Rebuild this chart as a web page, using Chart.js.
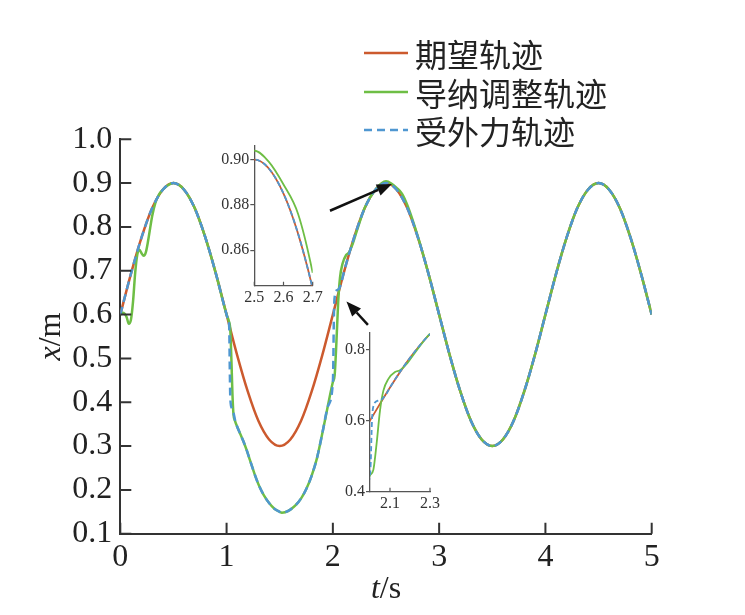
<!DOCTYPE html>
<html>
<head>
<meta charset="utf-8">
<script src="https://cdn.jsdelivr.net/npm/chart.js@4.4.1/dist/chart.umd.min.js"></script>
<style>
body { margin: 0; background: #fff; }
#wrap { position: relative; width: 745px; height: 615px; overflow: hidden; }
#wrap canvas { position: absolute; }
#legend { position: absolute; left: 364px; top: 34px; font-family: 'Noto Sans CJK SC'; font-size: 32px; color: #222; }
#legend div { height: 38.5px; display: flex; align-items: center; white-space: nowrap; }
#legend svg { margin-right: 7px; flex: none; }
</style>
</head>
<body>
<div id="wrap">
  <canvas id="main" width="745" height="615" style="left:0;top:0"></canvas>
  <canvas id="inset1" width="130" height="180" style="left:195px;top:135px"></canvas>
  <canvas id="inset2" width="125" height="195" style="left:320px;top:322px"></canvas>
  <div id="legend"></div>
</div>
<script>
// series names / colours
var names = ['期望轨迹', '导纳调整轨迹', '受外力轨迹']
var colors = ['#CC5A2E', '#6EBE45', '#4F97D1']

// desired trajectory
var tRef = [0, 0.1, 0.2, 0.3, 0.4, 0.5, 0.6, 0.7, 0.8, 0.9, 1.0, 1.1, 1.2, 1.3, 1.4, 1.5, 1.6, 1.7, 1.8, 1.9,
  2.0, 2.1, 2.2, 2.3, 2.4, 2.5, 2.6, 2.7, 2.8, 2.9, 3.0, 3.1, 3.2, 3.3, 3.4, 3.5, 3.6, 3.7, 3.8, 3.9,
  4.0, 4.1, 4.2, 4.3, 4.4, 4.5, 4.6, 4.7, 4.8, 4.9, 5.0]
var xRef = [0.600, 0.693, 0.776, 0.843, 0.885, 0.900, 0.885, 0.843, 0.776, 0.693, 0.600, 0.507, 0.424, 0.357, 0.315, 0.300, 0.315, 0.357, 0.424, 0.507,
  0.600, 0.693, 0.776, 0.843, 0.885, 0.900, 0.885, 0.843, 0.776, 0.693, 0.600, 0.507, 0.424, 0.357, 0.315, 0.300, 0.315, 0.357, 0.424, 0.507,
  0.600, 0.693, 0.776, 0.843, 0.885, 0.900, 0.885, 0.843, 0.776, 0.693, 0.600]

// admittance-adjusted trajectory
var tAdm = [0, 0.02, 0.04, 0.06, 0.08, 0.10, 0.12, 0.14, 0.16, 0.18, 0.20, 0.22, 0.24, 0.26, 0.28, 0.30, 0.33, 0.36, 0.40, 0.5, 0.6, 0.7, 0.8, 0.9, 1.0,
  1.02, 1.035, 1.045, 1.055, 1.065, 1.08, 1.10, 1.13, 1.16, 1.19, 1.22, 1.25, 1.28, 1.31, 1.35, 1.40, 1.45, 1.50, 1.52, 1.55,
  1.60, 1.65, 1.70, 1.75, 1.80, 1.85, 1.90, 1.95, 2.00,
  2.017, 2.033, 2.05, 2.067, 2.092, 2.125, 2.15, 2.183, 2.233, 2.3,
  2.4, 2.5, 2.55, 2.6, 2.65, 2.7, 2.8, 2.9,
  3.0, 3.1, 3.2, 3.3, 3.4, 3.5, 3.6, 3.7, 3.8, 3.9, 4.0, 4.1, 4.2, 4.3, 4.4, 4.5, 4.6, 4.7, 4.8, 4.9, 5.0]
var xAdm = [0.600, 0.604, 0.602, 0.594, 0.579, 0.588, 0.630, 0.695, 0.737, 0.748, 0.740, 0.734, 0.742, 0.766, 0.796, 0.825, 0.855, 0.872, 0.885, 0.900, 0.885, 0.843, 0.776, 0.693, 0.600,
  0.586, 0.565, 0.500, 0.420, 0.372, 0.357, 0.344, 0.327, 0.310, 0.290, 0.268, 0.246, 0.225, 0.207, 0.188, 0.170, 0.157, 0.150, 0.148, 0.149,
  0.155, 0.165, 0.180, 0.202, 0.232, 0.272, 0.328, 0.388, 0.446,
  0.462, 0.535, 0.628, 0.684, 0.717, 0.736, 0.741, 0.759, 0.797, 0.844,
  0.885, 0.904, 0.899, 0.889, 0.876, 0.850, 0.778, 0.693,
  0.600, 0.507, 0.424, 0.357, 0.315, 0.300, 0.315, 0.357, 0.424, 0.507, 0.600, 0.693, 0.776, 0.843, 0.885, 0.900, 0.885, 0.843, 0.776, 0.693, 0.600]

// trajectory under external force
var tExt = [0, 0.1, 0.2, 0.3, 0.4, 0.5, 0.6, 0.7, 0.8, 0.9, 1.0,
  1.015, 1.025, 1.03, 1.035, 1.05, 1.065, 1.08, 1.10,
  1.13, 1.16, 1.19, 1.22, 1.25, 1.28, 1.31, 1.35, 1.40, 1.45, 1.50, 1.52, 1.55, 1.60, 1.65, 1.70, 1.75, 1.80, 1.85, 1.90, 1.95, 2.00,
  2.003, 2.01, 2.02, 2.04, 2.06, 2.08, 2.10, 2.2, 2.3,
  2.4, 2.5, 2.6, 2.7, 2.8, 2.9, 3.0, 3.1, 3.2, 3.3, 3.4, 3.5, 3.6, 3.7, 3.8, 3.9, 4.0, 4.1, 4.2, 4.3, 4.4, 4.5, 4.6, 4.7, 4.8, 4.9, 5.0]
var xExt = [0.600, 0.693, 0.776, 0.843, 0.885, 0.900, 0.885, 0.843, 0.776, 0.693, 0.600,
  0.588, 0.570, 0.480, 0.410, 0.386, 0.376, 0.359, 0.344,
  0.327, 0.310, 0.290, 0.268, 0.246, 0.225, 0.207, 0.188, 0.170, 0.157, 0.150, 0.148, 0.149, 0.155, 0.165, 0.180, 0.202, 0.232, 0.272, 0.328, 0.388, 0.446,
  0.470, 0.600, 0.645, 0.656, 0.660, 0.673, 0.693, 0.776, 0.843,
  0.885, 0.900, 0.885, 0.843, 0.776, 0.693, 0.600, 0.507, 0.424, 0.357, 0.315, 0.300, 0.315, 0.357, 0.424, 0.507, 0.600, 0.693, 0.776, 0.843, 0.885, 0.900, 0.885, 0.843, 0.776, 0.693, 0.600]

// tick labels
var xTicks = [0, 1, 2, 3, 4, 5]
var yTicks = [0.1, 0.2, 0.3, 0.4, 0.5, 0.6, 0.7, 0.8, 0.9, 1.0]
var in1XTicks = [2.5, 2.6, 2.7]
var in1YTicks = [0.86, 0.88, 0.90]
var in2XTicks = [2.1, 2.3]
var in2YTicks = [0.4, 0.6, 0.8]

// arrows in data units of the main plot: [t0, x0, t1, x1]
var arrowList = [[1.973, 0.837, 2.556, 0.898], [2.330, 0.5765, 2.128, 0.630]]

var serif = "'Liberation Serif', 'Times New Roman', serif"
var ink = '#222'

function pts(ts, xs) {
  return ts.map(function (t, i) { return { x: t, y: xs[i] } })
}

// blue first so it is painted on top, red last (bottom)
function makeSets(w, dash) {
  return [
    { label: names[2], data: pts(tExt, xExt), borderColor: colors[2], borderWidth: w, borderDash: dash },
    { label: names[1], data: pts(tAdm, xAdm), borderColor: colors[1], borderWidth: w },
    { label: names[0], data: pts(tRef, xRef), borderColor: colors[0], borderWidth: w }
  ]
}

// tick marks pointing into the plot
var inTicks = {
  id: 'inTicks',
  afterDraw: function (chart, args, o) {
    var ctx = chart.ctx, a = chart.chartArea
    ctx.save()
    ctx.strokeStyle = o.color
    ctx.lineWidth = o.width
    ctx.beginPath()
    if (o.x) chart.scales.x.ticks.forEach(function (t) {
      var px = chart.scales.x.getPixelForValue(t.value)
      ctx.moveTo(px, a.bottom); ctx.lineTo(px, a.bottom - o.len)
    })
    if (o.y) chart.scales.y.ticks.forEach(function (t) {
      var py = chart.scales.y.getPixelForValue(t.value)
      ctx.moveTo(a.left, py); ctx.lineTo(a.left + o.len, py)
    })
    ctx.stroke()
    ctx.restore()
  }
}

function mixedText(ctx, parts, x, y) {
  var w = 0
  parts.forEach(function (p) { ctx.font = p[1]; w += ctx.measureText(p[0]).width })
  var cx = x - w / 2
  parts.forEach(function (p) { ctx.font = p[1]; ctx.fillText(p[0], cx, y); cx += ctx.measureText(p[0]).width })
}

var axisTitles = {
  id: 'axisTitles',
  afterDraw: function (chart) {
    var ctx = chart.ctx, a = chart.chartArea
    ctx.save()
    ctx.fillStyle = ink
    ctx.textAlign = 'left'
    ctx.textBaseline = 'alphabetic'
    mixedText(ctx, [['t', 'italic 32px ' + serif], ['/s', '32px ' + serif]], (a.left + a.right) / 2, 598)
    ctx.translate(60, (a.top + a.bottom) / 2)
    ctx.rotate(-Math.PI / 2)
    mixedText(ctx, [['x', 'italic 32px ' + serif], ['/m', '32px ' + serif]], 0, 0)
    ctx.restore()
  }
}

var arrows = {
  id: 'arrows',
  afterDraw: function (chart) {
    var ctx = chart.ctx, sx = chart.scales.x, sy = chart.scales.y
    ctx.save()
    ctx.strokeStyle = '#111'
    ctx.fillStyle = '#111'
    ctx.lineWidth = 2.5
    arrowList.forEach(function (a) {
      var x0 = sx.getPixelForValue(a[0]), y0 = sy.getPixelForValue(a[1])
      var x1 = sx.getPixelForValue(a[2]), y1 = sy.getPixelForValue(a[3])
      var ang = Math.atan2(y1 - y0, x1 - x0), c = Math.cos(ang), s = Math.sin(ang)
      var hl = 15, hw = 6
      ctx.beginPath()
      ctx.moveTo(x0, y0)
      ctx.lineTo(x1 - hl * c, y1 - hl * s)
      ctx.stroke()
      ctx.beginPath()
      ctx.moveTo(x1, y1)
      ctx.lineTo(x1 - hl * c + hw * s, y1 - hl * s - hw * c)
      ctx.lineTo(x1 - hl * c - hw * s, y1 - hl * s + hw * c)
      ctx.closePath()
      ctx.fill()
    })
    ctx.restore()
  }
}

new Chart(document.getElementById('main'), {
  type: 'line',
  data: { datasets: makeSets(2.5, [8, 5]) },
  options: {
    responsive: false,
    animation: false,
    events: [],
    layout: { padding: { top: 139.3, right: 93.3, left: 0, bottom: 0 } },
    elements: { point: { radius: 0 }, line: { cubicInterpolationMode: 'monotone' } },
    plugins: {
      legend: { display: false },
      tooltip: { enabled: false },
      inTicks: { x: true, y: true, len: 11, color: '#333', width: 2 }
    },
    scales: {
      x: {
        type: 'linear', min: 0, max: 5,
        afterBuildTicks: function (s) { s.ticks = xTicks.map(function (v) { return { value: v } }) },
        afterFit: function (s) { s.height = 81.3 },
        grid: { display: false, drawTicks: false },
        border: { display: true, color: '#333', width: 2 },
        ticks: { autoSkip: false, maxRotation: 0, padding: 5, color: ink, font: { family: serif, size: 32 },
          callback: function (v) { return String(v) } }
      },
      y: {
        type: 'linear', min: 0.1, max: 1.0,
        afterBuildTicks: function (s) { s.ticks = yTicks.map(function (v) { return { value: v } }) },
        afterFit: function (s) { s.width = 120.3 },
        grid: { display: false, drawTicks: false },
        border: { display: true, color: '#333', width: 2 },
        ticks: { autoSkip: false, padding: 8, color: ink, font: { family: serif, size: 32 },
          callback: function (v) { return v.toFixed(1) } }
      }
    }
  },
  plugins: [inTicks, axisTitles, arrows]
})

function makeInset(id, o) {
  return new Chart(document.getElementById(id), {
    type: 'line',
    data: { datasets: makeSets(1.8, [5, 3]) },
    options: {
      responsive: false,
      animation: false,
      events: [],
      layout: { padding: { top: o.top, right: o.right, left: 0, bottom: 0 } },
      elements: { point: { radius: 0 }, line: { cubicInterpolationMode: 'monotone' } },
      plugins: {
        legend: { display: false },
        tooltip: { enabled: false },
        inTicks: { x: true, y: false, len: 4, color: '#555', width: 1.2 }
      },
      scales: {
        x: {
          type: 'linear', min: o.xmin, max: o.xmax,
          afterBuildTicks: function (s) { s.ticks = o.xt.map(function (v) { return { value: v } }) },
          afterFit: function (s) { s.height = o.xh },
          grid: { display: false, drawTicks: false },
          border: { display: true, color: '#555', width: 1.3 },
          ticks: { autoSkip: false, maxRotation: 0, padding: 2, color: '#333', font: { family: serif, size: 16 },
            callback: function (v) { return v.toFixed(1) } }
        },
        y: {
          type: 'linear', min: o.ymin, max: o.ymax,
          afterBuildTicks: function (s) { s.ticks = o.yt.map(function (v) { return { value: v } }) },
          afterFit: function (s) { s.width = o.yw },
          grid: { display: true, drawOnChartArea: false, drawTicks: true, tickLength: 4, color: '#555', lineWidth: 1.2 },
          border: { display: true, color: '#555', width: 1.3 },
          ticks: { autoSkip: false, padding: 1, color: '#333', font: { family: serif, size: 16 },
            callback: function (v) { return v.toFixed(o.yd) } }
        }
      }
    },
    plugins: [inTicks]
  })
}

makeInset('inset1', { top: 10, right: 12.3, xh: 29.3, yw: 59.3, xmin: 2.5, xmax: 2.7, ymin: 0.8443, ymax: 0.9062,
  xt: in1XTicks, yt: in1YTicks, yd: 2 })
makeInset('inset2', { top: 10.3, right: 15, xh: 25.3, yw: 50, xmin: 2.0, xmax: 2.3, ymin: 0.4, ymax: 0.847,
  xt: in2XTicks, yt: in2YTicks, yd: 1 })

// legend
var leg = document.getElementById('legend')
names.forEach(function (n, i) {
  var row = document.createElement('div')
  var dash = i === 2 ? ' stroke-dasharray="8 5"' : ''
  row.innerHTML = '<svg width="44" height="6"><line x1="0" y1="3" x2="44" y2="3" stroke="' + colors[i] +
    '" stroke-width="2.5"' + dash + '/></svg><span>' + n + '</span>'
  leg.appendChild(row)
})
</script>
</body>
</html>
